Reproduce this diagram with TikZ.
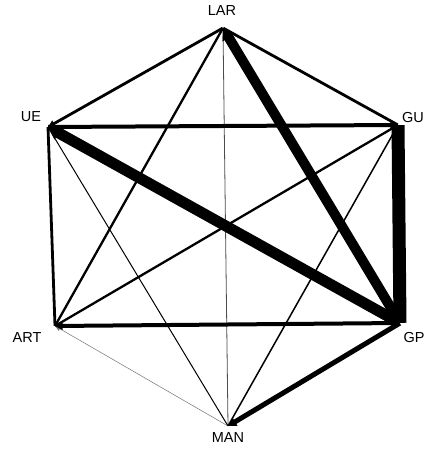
\documentclass[tikz,border=0pt]{standalone}
\usepackage{fontspec}
\setmainfont{Liberation Sans}
\usepackage{tikz}
\usetikzlibrary{arrows.meta, positioning, calc}

\tikzset{
  vtx/.style={inner sep=0pt, minimum size=0pt},
  lbl/.style={inner sep=0pt, font=\fontsize{14.5}{17}\selectfont},
  tie/.style={line width=#1, black},
  tip/.style={-{Triangle[length=5pt 0.6, width=4pt 1]}}
}

\begin{document}
\begin{tikzpicture}[x=1pt, y=-1pt]
  \useasboundingbox (0,0) rectangle (425,449);
  % vertices
  \node[vtx] (lar) at (223,28) {};
  \node[vtx] (ue)  at (48,127) {};
  \node[vtx] (gu)  at (398,125) {};
  \node[vtx] (gp)  at (400,323) {};
  \node[vtx] (art) at (55,326) {};
  \node[vtx] (man) at (228,426) {};
  % labels
  \node[lbl] (larL) at (222,11) {LAR};
  \node[lbl] (ueL)  at (31,117) {UE};
  \node[lbl] (guL)  at (413,118) {GU};
  \node[lbl] (gpL)  at (414,338) {GP};
  \node[lbl] (artL) at (27,338) {ART};
  \node[lbl] (manL) at (228,438) {MAN};
  % thin ties
  \draw[tie=0.5pt, black!55, tip] (man) -- (art);
  \draw[tie=0.8pt, black!70] (lar) -- (man);
  \draw[tie=1pt] (ue) -- (man);
  \draw[tie=1.5pt] (gu) -- (man);
  % medium ties
  \draw[tie=2.3pt] (lar) -- (art);
  \draw[tie=2.3pt] (gu) -- (art);
  \draw[tie=2.8pt, tip] (lar) -- (ue);
  \draw[tie=2.8pt] (lar) -- (gu);
  \draw[tie=2.8pt] (ue) -- (art);
  \draw[tie=4pt, tip] (ue) -- (gu);
  \draw[tie=4pt, tip] (gp) -- (art);
  \draw[tie=5pt, tip] (gp) -- (man);
  % heavy ties
  \draw[tie=10pt, tip] (gp) -- (lar);
  \draw[tie=11pt, tip] (gp) -- (ue);
  \draw[tie=13pt] (gu) -- (gp);
\end{tikzpicture}
\end{document}
